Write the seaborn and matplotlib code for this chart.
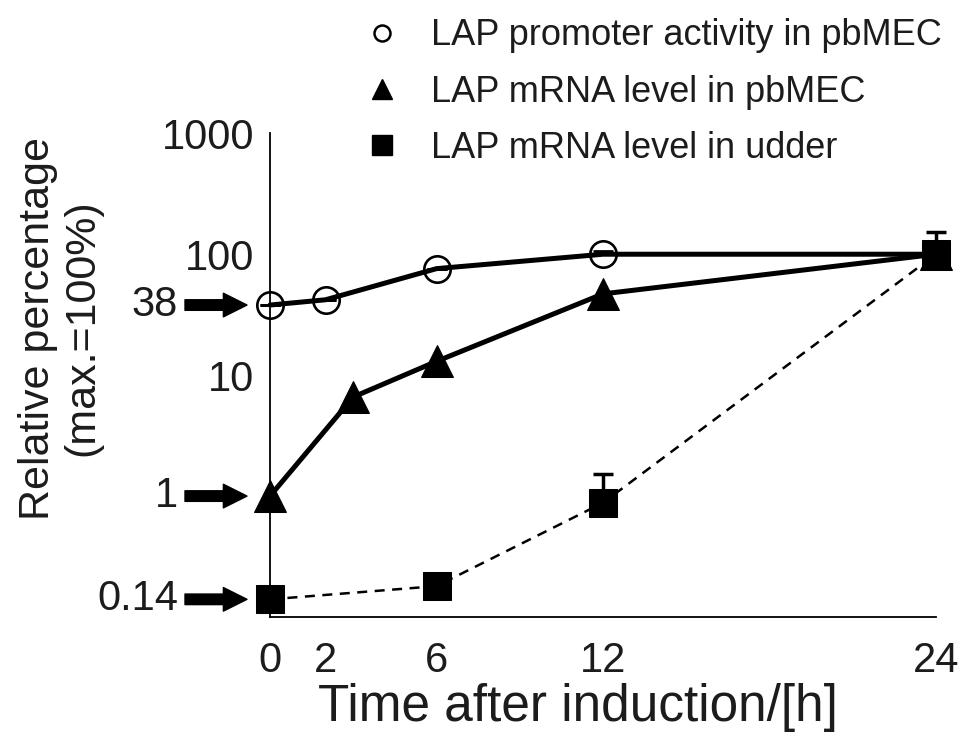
import matplotlib
matplotlib.use("Agg")
import matplotlib.pyplot as plt
from matplotlib.lines import Line2D
import numpy as np
import pandas as pd
import seaborn as sns

# Time course values (relative percentage, max. = 100 %)
hours_promoter = [0, 2, 6, 12, 24]
promoter_pbmec = [38, 42, 76, 100, 100]
promoter_err = [0, 0, 0, 7, 0]

hours_mrna_pbmec = [0, 3, 6, 12, 24]
mrna_pbmec = [1, 6.6, 13, 47, 100]

hours_udder = [0, 6, 12, 24]
mrna_udder = [0.14, 0.18, 0.88, 100]
udder_err = [0, 0, 0.65, 53]

series_labels = ["LAP promoter activity in pbMEC",
                 "LAP mRNA level in pbMEC",
                 "LAP mRNA level in udder"]

x_ticks = list(range(0, 25, 2))
x_labelled = [0, 2, 6, 12, 24]
y_ticks = [1, 10, 100, 1000]
y_ticklabels = ["", "10", "100", "1000"]

# starting levels marked with arrows
start_values = [38, 1, 0.14]
start_labels = ["38", "1", "0.14"]

sns.set_theme(style="white")
plt.rcParams["font.family"] = ["Liberation Sans", "DejaVu Sans"]
ink = "#1c1c1c"
plt.rcParams["text.color"] = ink
plt.rcParams["xtick.color"] = ink
plt.rcParams["ytick.color"] = ink
plt.rcParams["axes.labelcolor"] = ink

fig = plt.figure(figsize=(9.59, 7.44), dpi=100)
ax_left, ax_right, ax_top, ax_bottom = 270, 936, 133.3, 617
ax = fig.add_axes([ax_left / 959, 1 - ax_bottom / 744,
                   (ax_right - ax_left) / 959, (ax_bottom - ax_top) / 744])

df_p = pd.DataFrame({"h": hours_promoter, "v": promoter_pbmec})
df_m = pd.DataFrame({"h": hours_mrna_pbmec, "v": mrna_pbmec})
df_u = pd.DataFrame({"h": hours_udder, "v": mrna_udder})

# error bars (upper side only)
ax.errorbar(hours_udder, mrna_udder, yerr=[np.zeros(len(udder_err)), udder_err],
            fmt="none", ecolor="black", elinewidth=2.5, capsize=7.5, capthick=2.5,
            clip_on=False, zorder=2)
ax.errorbar(hours_promoter, promoter_pbmec,
            yerr=[np.zeros(len(promoter_err)), promoter_err],
            fmt="none", ecolor="black", elinewidth=2.0, capsize=7.5, capthick=2.0,
            clip_on=False, zorder=2)

sns.lineplot(data=df_u, x="h", y="v", ax=ax, color="black", linewidth=1.8,
             linestyle=(0, (4, 3)), marker="s", markersize=20,
             markerfacecolor="black", markeredgecolor="black", clip_on=False,
             zorder=3)
sns.lineplot(data=df_m, x="h", y="v", ax=ax, color="black", linewidth=3.6,
             marker="^", markersize=23, markerfacecolor="black",
             markeredgecolor="black", clip_on=False, zorder=4)
sns.lineplot(data=df_p, x="h", y="v", ax=ax, color="black", linewidth=3.6,
             marker="o", markersize=19, markerfacecolor="none",
             markeredgecolor="black", markeredgewidth=1.9, clip_on=False,
             zorder=5)

ax.set_yscale("log")
ax.set_ylim(0.1, 1000)
ax.set_xlim(0, 24)
ax.set_yticks(y_ticks)
ax.set_yticklabels(y_ticklabels)
ax.yaxis.set_minor_locator(matplotlib.ticker.NullLocator())
ax.set_xticks(x_ticks)
ax.set_xticklabels([str(t) if t in x_labelled else "" for t in x_ticks])

for side in ["top", "right"]:
    ax.spines[side].set_visible(False)
for side in ["left", "bottom"]:
    ax.spines[side].set_color("black")
    ax.spines[side].set_linewidth(1.3)

ax.tick_params(axis="both", direction="out", length=4.5, width=1.2, colors=ink)
ax.tick_params(axis="y", labelsize=30, pad=7)
ax.tick_params(axis="x", labelsize=30, pad=13)

ax.set_xlabel("Time after induction/[h]", fontsize=37, va="center")
ax.xaxis.set_label_coords((578 - ax_left) / (ax_right - ax_left),
                          (ax_bottom - 708) / (ax_bottom - ax_top))
ax.set_ylabel("Relative percentage\n(max.=100%)", fontsize=31,
              linespacing=1.15, va="center", ha="center")
ax.yaxis.set_label_coords((60 - ax_left) / (ax_right - ax_left),
                          (ax_bottom - 328) / (ax_bottom - ax_top))

# arrows pointing at the starting values
px_per_h = (ax_right - ax_left) / 24
for v, lab in zip(start_values, start_labels):
    ax.annotate("", xy=((247 - ax_left) / px_per_h, v),
                xytext=((185 - ax_left) / px_per_h, v), xycoords="data",
                annotation_clip=False,
                arrowprops=dict(arrowstyle="simple,head_length=0.85,head_width=0.85,tail_width=0.38",
                                color="black", shrinkA=0, shrinkB=0,
                                mutation_scale=20))
    ax.text((178 - ax_left) / px_per_h, v, lab, ha="right", va="center",
            fontsize=30, clip_on=False)

handles = [
    Line2D([], [], linestyle="none", marker="o", markersize=11.5,
           markerfacecolor="none", markeredgecolor="black", markeredgewidth=1.8),
    Line2D([], [], linestyle="none", marker="^", markersize=15,
           markerfacecolor="black", markeredgecolor="black"),
    Line2D([], [], linestyle="none", marker="s", markersize=14,
           markerfacecolor="black", markeredgecolor="black"),
]
fig.legend(handles, series_labels, loc="upper left",
           bbox_to_anchor=(0.372, 0.985), frameon=False, fontsize=26,
           handlelength=1.0, handletextpad=0.85, labelspacing=0.59,
           borderaxespad=0.0, borderpad=0.2)

fig.savefig("out.png", dpi=100)
